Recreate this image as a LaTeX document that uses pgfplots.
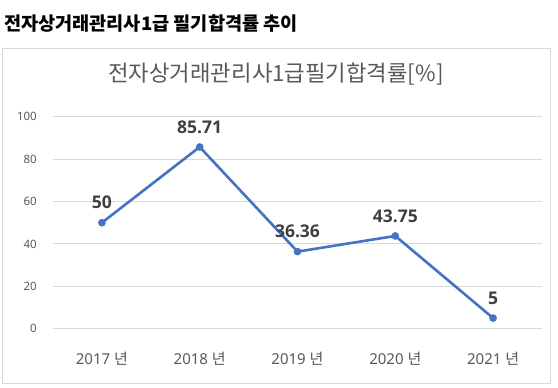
\documentclass[border=0pt]{standalone}
\usepackage{pgfplots}
\pgfplotsset{compat=1.18}
\usepackage{fontspec}
\setmainfont{Noto Sans}
\newfontfamily\kr{Noto Sans CJK KR}
\newfontfamily\lab{Open Sans}
\definecolor{lineblue}{HTML}{4472C4}
\definecolor{gridgray}{HTML}{D9D9D9}
\definecolor{labgray}{HTML}{595959}
\definecolor{datgray}{HTML}{404040}
\begin{document}
\begin{tikzpicture}
\useasboundingbox (0pt,0pt) rectangle (558pt,388pt);
\fill[white] (0pt,0pt) rectangle (558pt,388pt);
\draw[gridgray, line width=0.8pt] (2.5pt,5pt) rectangle (550.5pt,340pt);
\node[anchor=west, inner sep=0pt, font=\kr\bfseries\fontsize{18.6}{20}\selectfont] at (4pt,364pt) {전자상거래관리사1급 필기합격률 추이};
\node[inner sep=0pt, text=labgray, font=\kr\fontsize{22.3}{25}\selectfont] at (276pt,314pt) {전자상거래관리사1급필기합격률[\%]};
\begin{axis}[
  at={(53pt,59.3pt)}, anchor=south west,
  scale only axis, width=489pt, height=212pt,
  xmin=-0.5, xmax=4.5, ymin=0, ymax=100,
  ytick={0,20,...,100}, xtick={0,1,2,3,4},
  xticklabels={{2017 {\kr 년}},{2018 {\kr 년}},{2019 {\kr 년}},{2020 {\kr 년}},{2021 {\kr 년}}},
  axis line style={draw=none},
  major tick length=0pt,
  ymajorgrids, grid style={gridgray, line width=0.9pt},
  /pgf/number format/assume math mode=true,
  yticklabel style={font=\fontsize{11.5}{13}\selectfont, text=labgray, anchor=east, inner sep=0pt, xshift=-16pt},
  xticklabel style={font=\fontsize{15}{17}\selectfont, text=labgray, anchor=center, inner sep=0pt, yshift=-29.8pt},
  clip=false,
]
\addplot[lineblue, line width=2.6pt, mark=*, mark size=3.6pt, mark options={fill=lineblue, draw=lineblue, line width=0.4pt},
  nodes near coords={\lab\bfseries\fontsize{17.5}{19}\selectfont\pgfmathprintnumber[assume math mode=true]{\pgfplotspointmeta}},
  nodes near coords align={center},
  every node near coord/.append style={text=datgray, inner sep=0pt, yshift=20pt}]
  coordinates {(0,50) (1,85.71) (2,36.36) (3,43.75) (4,5)};
\end{axis}
\end{tikzpicture}
\end{document}
